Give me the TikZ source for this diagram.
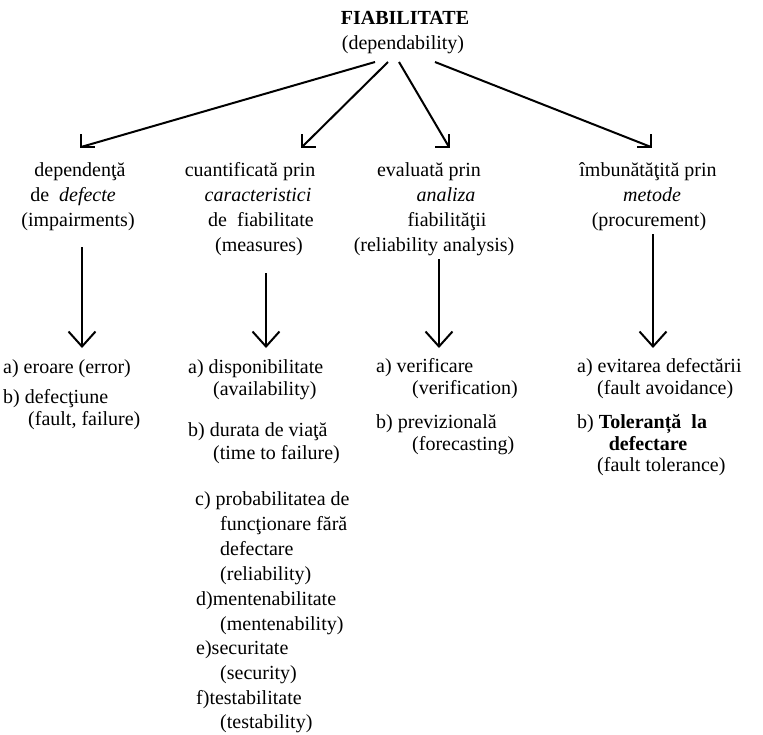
\documentclass[tikz,border=0pt]{standalone}
\usepackage{fontspec}
\setmainfont{Liberation Serif}
\usetikzlibrary{arrows.meta}
\begin{document}
\begin{tikzpicture}[x=1pt,y=-1pt,
  ln/.style={font=\fontsize{20}{24}\selectfont, inner sep=0pt, anchor=base},
  li/.style={font=\fontsize{20}{24}\selectfont, inner sep=0pt, anchor=base west},
  diag/.style={line width=2pt},
  corner/.style={line width=2pt, line join=miter},
  down/.style={line width=1.6pt, -{Straight Barb[length=15pt,width=27pt,line width=2pt]}}]
\useasboundingbox (0,0) rectangle (763,734);

% title
\node[ln] (root) at (405,24) {\textbf{FIABILITATE}};
\node[ln] (rootsub) at (403,49) {(dependability)};

% column headers
\node[ln] (h1) at (80,176) {dependenţă};
\node[ln] (h1b) at (73,201) {de\ \ \textit{defecte}};
\node[ln] (h1c) at (78,226) {(impairments)};

\node[ln] (h2) at (250,176) {cuantificată prin};
\node[ln] (h2b) at (258,201) {\textit{caracteristici}};
\node[ln] (h2c) at (261,226) {de\ \ fiabilitate};
\node[ln] (h2d) at (259,251) {(measures)};

\node[ln] (h3) at (429,176) {evaluată prin};
\node[ln] (h3b) at (446,201) {\textit{analiza}};
\node[ln] (h3c) at (447,226) {fiabilităţii};
\node[ln] (h3d) at (434,251) {(reliability analysis)};

\node[ln] (h4) at (648,176) {îmbunătăţită prin};
\node[ln] (h4b) at (652,201) {\textit{metode}};
\node[ln] (h4c) at (649,226) {(procurement)};

% diagonal connectors
\coordinate (r1) at (375,62);
\coordinate (r2) at (388,62);
\coordinate (r3) at (399,62);
\coordinate (r4) at (435,62);
\coordinate (t1) at (81,147);
\coordinate (t2) at (302,147);
\coordinate (t3) at (449,147);
\coordinate (t4) at (651,147);
\draw[diag] (r1) -- (t1);
\draw[diag] (r2) -- (t2);
\draw[diag] (r3) -- (t3);
\draw[diag] (r4) -- (t4);
\draw[corner] (t1) ++(0,-13) -- (t1) -- ++(14,0);
\draw[corner] (t2) ++(0,-13) -- (t2) -- ++(14,0);
\draw[corner] (t3) ++(0,-13) -- (t3) -- ++(-14,0);
\draw[corner] (t4) ++(0,-13) -- (t4) -- ++(-14,0);

% vertical arrows
\coordinate (v1) at (82,247);  \coordinate (w1) at (82,348);
\coordinate (v2) at (266,273); \coordinate (w2) at (266,348);
\coordinate (v3) at (439,259); \coordinate (w3) at (439,348);
\coordinate (v4) at (653,234); \coordinate (w4) at (653,348);
\draw[down] (v1) -- (w1);
\draw[down] (v2) -- (w2);
\draw[down] (v3) -- (w3);
\draw[down] (v4) -- (w4);

% column 1 items
\node[li] (c1a) at (3,373) {a) eroare (error)};
\node[li] (c1b) at (3,403) {b) defecţiune};
\node[li] (c1c) at (28,425) {(fault, failure)};

% column 2 items
\node[li] (c2a) at (188,373) {a) disponibilitate};
\node[li] (c2a2) at (213,395) {(availability)};
\node[li] (c2b) at (188,436) {b) durata de viaţă};
\node[li] (c2b2) at (213,459) {(time to failure)};
\node[li] (c2c) at (195,505) {c) probabilitatea de};
\node[li] (c2c2) at (220,530) {funcţionare fără};
\node[li] (c2c3) at (220,555) {defectare};
\node[li] (c2c4) at (220,580) {(reliability)};
\node[li] (c2d) at (196,605) {d)mentenabilitate};
\node[li] (c2d2) at (220,630) {(mentenability)};
\node[li] (c2e) at (196,654) {e)securitate};
\node[li] (c2e2) at (220,679) {(security)};
\node[li] (c2f) at (196,704) {f)testabilitate};
\node[li] (c2f2) at (220,728) {(testability)};

% column 3 items
\node[li] (c3a) at (376,372) {a) verificare};
\node[li] (c3a2) at (412,394) {(verification)};
\node[li] (c3b) at (376,428) {b) previzională};
\node[li] (c3b2) at (412,450) {(forecasting)};

% column 4 items
\node[li] (c4a) at (577,372) {a) evitarea defectării};
\node[li] (c4a2) at (597,394) {(fault avoidance)};
\node[li] (c4b) at (577,428) {b)\ \textbf{Toleranță\ \ la}};
\node[ln] (c4b2) at (648,450) {\textbf{defectare}};
\node[li] (c4b3) at (597,471) {(fault tolerance)};
\end{tikzpicture}
\end{document}
